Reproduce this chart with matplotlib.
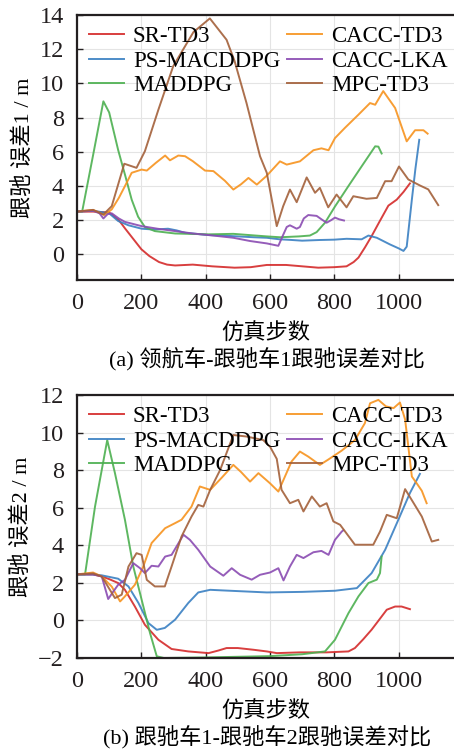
import matplotlib
matplotlib.use("Agg")
import matplotlib.pyplot as plt

plt.rcParams['font.family'] = ['Liberation Serif', 'Noto Sans CJK SC']
plt.rcParams['axes.unicode_minus'] = True

# --- leader -> follower 1 ---
sr1_x = [0, 50, 100, 130, 150, 175, 200, 225, 255, 280, 305, 360, 420, 490, 540, 590, 650, 700, 750, 800,
         838, 860, 875, 895, 916, 940, 968, 994, 1015, 1035]
sr1_y = [2.5, 2.5, 2.45, 2.0, 1.5, 0.9, 0.3, -0.1, -0.45, -0.6, -0.65, -0.6, -0.7, -0.78, -0.75, -0.62,
         -0.62, -0.7, -0.78, -0.75, -0.7, -0.45, -0.19, 0.4, 1.07, 1.9, 2.85, 3.2, 3.65, 4.15]

ps1_x = [0, 50, 100, 128, 160, 201, 240, 283, 310, 336, 370, 408, 450, 500, 550, 590, 630, 660, 700, 755,
         800, 838, 885, 906, 932, 973, 1000, 1015, 1025, 1041, 1052, 1064]
ps1_y = [2.5, 2.55, 2.4, 1.95, 1.7, 1.5, 1.45, 1.5, 1.4, 1.26, 1.2, 1.13, 1.1, 1.05, 1.0, 0.97, 0.88, 0.85,
         0.8, 0.84, 0.86, 0.91, 0.88, 1.1, 0.97, 0.58, 0.35, 0.2, 0.45, 3.2, 5.0, 6.7]

madd1_x = [0, 16, 50, 82, 100, 128, 150, 170, 190, 211, 242, 305, 409, 486, 590, 631, 690, 724, 745, 771,
           802, 844, 885, 927, 937, 947]
madd1_y = [2.5, 2.5, 5.8, 8.95, 8.3, 6.1, 4.6, 3.2, 2.2, 1.6, 1.36, 1.22, 1.17, 1.2, 1.05, 1.0, 1.05, 1.1,
           1.3, 1.85, 2.8, 4.0, 5.15, 6.32, 6.3, 5.9]

lka1_x = [0, 50, 70, 82, 95, 108, 130, 149, 201, 250, 305, 360, 409, 486, 538, 590, 626, 640, 652, 662,
          683, 693, 705, 719, 745, 760, 776, 790, 802, 815, 830]
lka1_y = [2.5, 2.55, 2.4, 2.1, 2.35, 2.4, 2.1, 1.9, 1.65, 1.5, 1.36, 1.22, 1.13, 0.97, 0.78, 0.64, 0.5,
          1.1, 1.6, 1.7, 1.5, 1.6, 2.1, 2.3, 2.25, 2.05, 1.85, 2.0, 2.15, 2.05, 1.98]

cacc1_x = [0, 50, 85, 108, 130, 149, 170, 201, 217, 245, 274, 289, 315, 336, 360, 398, 424, 460, 486, 510,
           533, 559, 590, 631, 652, 693, 735, 760, 782, 802, 833, 875, 911, 927, 952, 989, 1025, 1051,
           1077, 1090]
cacc1_y = [2.5, 2.6, 2.3, 2.63, 3.3, 3.99, 4.77, 4.96, 4.9, 5.35, 5.78, 5.5, 5.78, 5.74, 5.45, 4.9, 4.87,
           4.3, 3.79, 4.1, 4.47, 4.08, 4.6, 5.44, 5.25, 5.44, 6.09, 6.2, 6.09, 6.8, 7.4, 8.17, 8.85, 8.75,
           9.55, 8.56, 6.61, 7.26, 7.26, 7.06]

mpc1_x = [0, 50, 82, 108, 147, 185, 211, 253, 299, 362, 413, 465, 490, 527, 548, 569, 590, 621, 641, 662,
          683, 714, 740, 755, 781, 807, 838, 859, 900, 932, 958, 978, 1001, 1030, 1066, 1092, 1123]
mpc1_y = [2.5, 2.6, 2.33, 2.82, 5.3, 5.06, 6.03, 8.46, 11.0, 13.0, 13.8, 12.55, 11.3, 8.85, 7.29, 5.74,
          4.77, 1.65, 2.82, 3.79, 3.05, 4.5, 3.6, 3.89, 2.75, 3.5, 2.75, 3.4, 3.25, 3.3, 4.28, 4.28, 5.14,
          4.38, 4.03, 3.8, 2.88]

# --- follower 1 -> follower 2 ---
sr2_x = [0, 50, 77, 100, 128, 149, 180, 211, 253, 294, 346, 409, 440, 465, 500, 548, 590, 621, 693, 776,
         844, 864, 890, 916, 940, 963, 989, 1009, 1035]
sr2_y = [2.45, 2.45, 2.34, 2.2, 1.99, 1.63, 0.74, -0.23, -1.03, -1.52, -1.65, -1.74, -1.6, -1.47, -1.47,
         -1.56, -1.65, -1.74, -1.7, -1.7, -1.65, -1.47, -1.0, -0.49, 0.05, 0.57, 0.74, 0.74, 0.6]

ps2_x = [0, 50, 77, 128, 160, 191, 222, 248, 273, 305, 346, 377, 414, 450, 590, 700, 802, 870, 916, 958,
         999, 1035, 1066]
ps2_y = [2.45, 2.45, 2.4, 2.22, 1.81, 0.93, -0.14, -0.5, -0.4, 0.04, 0.93, 1.49, 1.63, 1.6, 1.49, 1.52,
         1.58, 1.72, 2.52, 3.76, 5.36, 6.78, 7.8]

madd2_x = [0, 25, 56, 94, 118, 149, 175, 201, 227, 248, 270, 400, 600, 700, 771, 802, 844, 875, 906, 932,
           942, 947]
madd2_y = [2.45, 2.45, 6.06, 9.6, 7.84, 5.36, 2.87, 1.1, -0.67, -1.91, -2.0, -1.97, -1.9, -1.8, -1.65,
           -1.03, 0.39, 1.28, 1.99, 2.17, 2.52, 3.4]

lka2_x = [0, 50, 77, 97, 113, 128, 149, 175, 196, 211, 232, 253, 274, 294, 331, 351, 377, 414, 455, 481,
          507, 543, 569, 600, 626, 642, 662, 683, 704, 735, 760, 782, 802, 823, 828]
lka2_y = [2.45, 2.45, 2.34, 1.14, 1.54, 1.9, 2.16, 3.05, 2.78, 2.52, 2.91, 2.87, 3.4, 3.49, 4.56, 4.29,
          3.76, 2.87, 2.38, 2.78, 2.43, 2.17, 2.43, 2.55, 2.78, 2.13, 2.87, 3.49, 3.32, 3.63, 3.7, 3.49,
          4.29, 4.73, 4.8]

cacc2_x = [0, 50, 77, 108, 134, 149, 180, 206, 232, 274, 305, 325, 356, 382, 414, 450, 486, 510, 538, 564,
           600, 626, 667, 693, 719, 755, 780, 823, 864, 895, 911, 937, 960, 984, 1004, 1020, 1041, 1056,
           1072, 1087]
cacc2_y = [2.45, 2.55, 2.34, 1.8, 1.01, 1.28, 1.9, 2.87, 4.12, 4.91, 5.18, 5.36, 6.06, 7.13, 6.95, 7.6,
           8.28, 7.9, 7.39, 7.84, 7.3, 6.86, 8.46, 8.99, 8.72, 8.28, 8.55, 9.04, 9.6, 10.5, 11.56, 11.74,
           11.4, 11.3, 11.6, 10.7, 7.66, 7.3, 6.9, 6.24]

mpc2_x = [0, 50, 77, 118, 139, 160, 185, 201, 217, 242, 273, 294, 325, 356, 377, 393, 414, 445, 486, 527,
          579, 600, 621, 636, 662, 688, 704, 730, 755, 776, 797, 818, 864, 921, 942, 963, 994, 1020, 1072,
          1103, 1123]
mpc2_y = [2.45, 2.5, 2.34, 1.19, 1.37, 2.87, 3.58, 3.49, 2.16, 1.81, 1.81, 2.87, 4.47, 5.53, 6.15, 6.06,
          6.95, 8.01, 9.87, 9.79, 9.6, 9.25, 8.6, 6.95, 6.24, 6.42, 5.8, 6.6, 6.06, 6.24, 5.27, 5.09, 4.03,
          4.03, 4.73, 5.62, 5.44, 6.99, 5.53, 4.2, 4.29]

labels = ['SR-TD3', 'PS-MACDDPG', 'MADDPG', 'CACC-TD3', 'CACC-LKA', 'MPC-TD3']
colors = ['#d42a2a', '#3a80c2', '#4cb050', '#f7931e', '#8a4bb2', '#a3603a']

top_series = [(sr1_x, sr1_y), (ps1_x, ps1_y), (madd1_x, madd1_y),
              (cacc1_x, cacc1_y), (lka1_x, lka1_y), (mpc1_x, mpc1_y)]
bot_series = [(sr2_x, sr2_y), (ps2_x, ps2_y), (madd2_x, madd2_y),
              (cacc2_x, cacc2_y), (lka2_x, lka2_y), (mpc2_x, mpc2_y)]

x_ticks = [0, 200, 400, 600, 800, 1000]

fig = plt.figure(figsize=(4.54, 7.51), dpi=100)
W, H = 454, 751


def make_axes(top_px, bottom_px):
    # right edge sits past the canvas so x=1200 is cut off
    left, right = 77, 463
    return fig.add_axes([left / W, (H - bottom_px) / H, (right - left) / W, (bottom_px - top_px) / H])


def style_axes(ax, series, ylim, yticks, ylabel, caption, cap_y):
    for (x, y), lab, c in zip(series, labels, colors):
        ax.plot(x, y, color=c, lw=1.4, label=lab, alpha=0.9)
    ax.set_xlim(0, 1200)
    ax.set_ylim(*ylim)
    ax.set_xticks(x_ticks)
    ax.set_yticks(yticks)
    ax.grid(True, color='#e4e4e4', lw=0.8)
    ax.set_axisbelow(True)
    for s in ['left', 'top', 'bottom']:
        ax.spines[s].set_linewidth(1.6)
        ax.spines[s].set_color('#231f20')
    ax.spines['right'].set_visible(False)
    ax.tick_params(direction='in', length=4, width=1, labelsize=17.5, colors='#231f20', pad=9.5)
    ax.set_xlabel('仿真步数', fontsize=16)
    ax.set_ylabel(ylabel, fontsize=16, labelpad=4)
    ax.xaxis.set_label_coords(0.49, -0.165)
    ax.legend(ncol=2, loc='upper left', bbox_to_anchor=(0.03, 0.958), frameon=False,
              fontsize=16.5, handlelength=1.53, handletextpad=0.4, columnspacing=0.3,
              labelspacing=0.15, borderaxespad=0, borderpad=0)
    fig.text(267 / W, (H - cap_y) / H, caption, fontsize=16, ha='center', va='center')


ax1 = make_axes(15, 280)
style_axes(ax1, top_series, (-1.5, 14), [0, 2, 4, 6, 8, 10, 12, 14],
           '跟驰 误差1 / m', '(a) 领航车-跟驰车1跟驰误差对比', 360)

ax2 = make_axes(395, 658)
style_axes(ax2, bot_series, (-2, 12), [-2, 0, 2, 4, 6, 8, 10, 12],
           '跟驰 误差2 / m', '(b) 跟驰车1-跟驰车2跟驰误差对比', 738)

fig.savefig('out.png', dpi=100)
